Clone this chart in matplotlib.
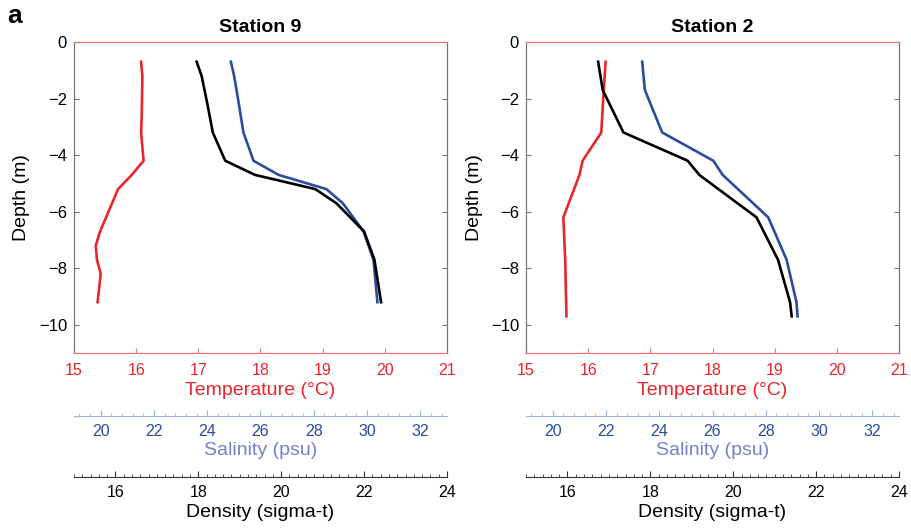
import matplotlib.pyplot as plt
from matplotlib.ticker import MultipleLocator

plt.rcParams['font.family'] = ['Liberation Sans', 'DejaVu Sans']

# Station 9 profiles
s9_temp_depth = [-0.7, -1.2, -2.6, -3.2, -4.2, -4.7, -5.2, -6.7, -7.2, -7.7, -8.2, -9.2]
s9_temp = [16.08, 16.10, 16.09, 16.08, 16.12, 15.93, 15.71, 15.42, 15.35, 15.37, 15.43, 15.38]
s9_sal_depth = [-0.7, -1.2, -2.2, -3.2, -4.2, -4.7, -5.2, -5.7, -6.7, -7.7, -9.2]
s9_sal = [24.89, 25.01, 25.19, 25.36, 25.74, 26.68, 28.47, 29.09, 29.87, 30.24, 30.39]
s9_dens_depth = [-0.7, -1.2, -2.2, -3.2, -4.2, -4.7, -5.2, -5.7, -6.7, -7.7, -9.2]
s9_dens = [17.96, 18.08, 18.22, 18.35, 18.65, 19.37, 20.82, 21.33, 22.0, 22.25, 22.41]

# Station 2 profiles
s2_temp_depth = [-0.7, -1.7, -3.2, -4.2, -4.7, -6.2, -7.7, -9.7]
s2_temp = [16.28, 16.25, 16.21, 15.91, 15.86, 15.60, 15.63, 15.65]
s2_sal_depth = [-0.7, -1.7, -3.2, -4.2, -4.7, -6.2, -7.7, -9.2, -9.7]
s2_sal = [23.36, 23.46, 24.11, 26.03, 26.38, 28.09, 28.78, 29.15, 29.19]
s2_dens_depth = [-0.7, -1.7, -3.2, -4.2, -4.7, -6.2, -7.7, -9.2, -9.7]
s2_dens = [16.74, 16.85, 17.35, 18.90, 19.18, 20.56, 21.08, 21.37, 21.41]

stations = [
    ('Station 9', s9_temp_depth, s9_temp, s9_sal_depth, s9_sal, s9_dens_depth, s9_dens),
    ('Station 2', s2_temp_depth, s2_temp, s2_sal_depth, s2_sal, s2_dens_depth, s2_dens),
]

red = '#e8262b'
blue = '#2b4c9e'
lav = '#7b80c4'
spine_red = '#f07474'
gray = '#777777'

fig = plt.figure(figsize=(9.12, 5.31), dpi=100)
lefts = [0.0811, 0.5768]
width = 0.409

for left, (title, td, t, sd, s, dd, d) in zip(lefts, stations):
    ax = fig.add_axes([left, 0.335, width, 0.586])
    ax.plot(t, td, color=red, lw=1.9)
    ax.set_xlim(15, 21)
    ax.set_ylim(-11, 0)
    ax.set_yticks([-10, -8, -6, -4, -2, 0])
    ax.set_xticks(range(15, 22))
    ax.tick_params(direction='in', top=True, right=True, labelsize=11.5)
    ax.tick_params(axis='x', colors=spine_red, labelcolor=red, pad=7)
    ax.tick_params(axis='y', colors=gray, labelcolor='black', pad=5, labelsize=12)
    for sp in ['top', 'bottom']:
        ax.spines[sp].set_color(spine_red)
    for sp in ['left', 'right']:
        ax.spines[sp].set_color(gray)
    for sp in ax.spines.values():
        sp.set_linewidth(0.9)
    ax.set_xlabel('Temperature (°C)', color=red, fontsize=14, labelpad=3)
    ax.set_ylabel('Depth (m)', fontsize=14, labelpad=6)
    ax.set_title(title, fontsize=14, fontweight='bold', y=1.0, pad=7)

    # salinity and density plotted on their own x scales
    ax_s = ax.twiny()
    ax_s.set_xlim(19, 33)
    ax_s.plot(s, sd, color=blue, lw=1.9)
    ax_s.set_axis_off()
    ax_d = ax.twiny()
    ax_d.set_xlim(15, 24)
    ax_d.plot(d, dd, color='black', lw=1.9)
    ax_d.set_axis_off()

    # salinity scale below
    sa = fig.add_axes([left, 0.217, width, 0.0001])
    sa.set_xlim(19, 33)
    sa.set_xticks([20, 22, 24, 26, 28, 30, 32])
    sa.xaxis.set_minor_locator(MultipleLocator(0.4))
    sa.set_yticks([])
    for sp in ['top', 'left', 'right']:
        sa.spines[sp].set_visible(False)
    sa.spines['bottom'].set_color('#9fb3e0')
    sa.tick_params(axis='x', which='both', direction='in', colors='#9fb3e0',
                   labelcolor=blue, labelsize=11.5, pad=6)
    sa.tick_params(axis='x', which='major', length=4.5)
    sa.tick_params(axis='x', which='minor', length=2.5)
    sa.set_xlabel('Salinity (psu)', color=lav, fontsize=14, labelpad=2)
    sa.patch.set_visible(False)

    # density scale below
    da = fig.add_axes([left, 0.102, width, 0.0001])
    da.set_xlim(15, 24)
    da.set_xticks([16, 18, 20, 22, 24])
    da.xaxis.set_minor_locator(MultipleLocator(0.2))
    da.set_yticks([])
    for sp in ['top', 'left', 'right']:
        da.spines[sp].set_visible(False)
    da.spines['bottom'].set_color('#333333')
    da.tick_params(axis='x', which='both', direction='in', colors='#333333',
                   labelcolor='black', labelsize=11.5, pad=6)
    da.tick_params(axis='x', which='major', length=4.5)
    da.tick_params(axis='x', which='minor', length=2.5)
    da.set_xlabel('Density (sigma-t)', color='black', fontsize=14, labelpad=3)
    da.patch.set_visible(False)

fig.text(0.008, 0.992, 'a', fontsize=19, fontweight='bold', va='top', ha='left')

fig.savefig('out.png', dpi=100)
